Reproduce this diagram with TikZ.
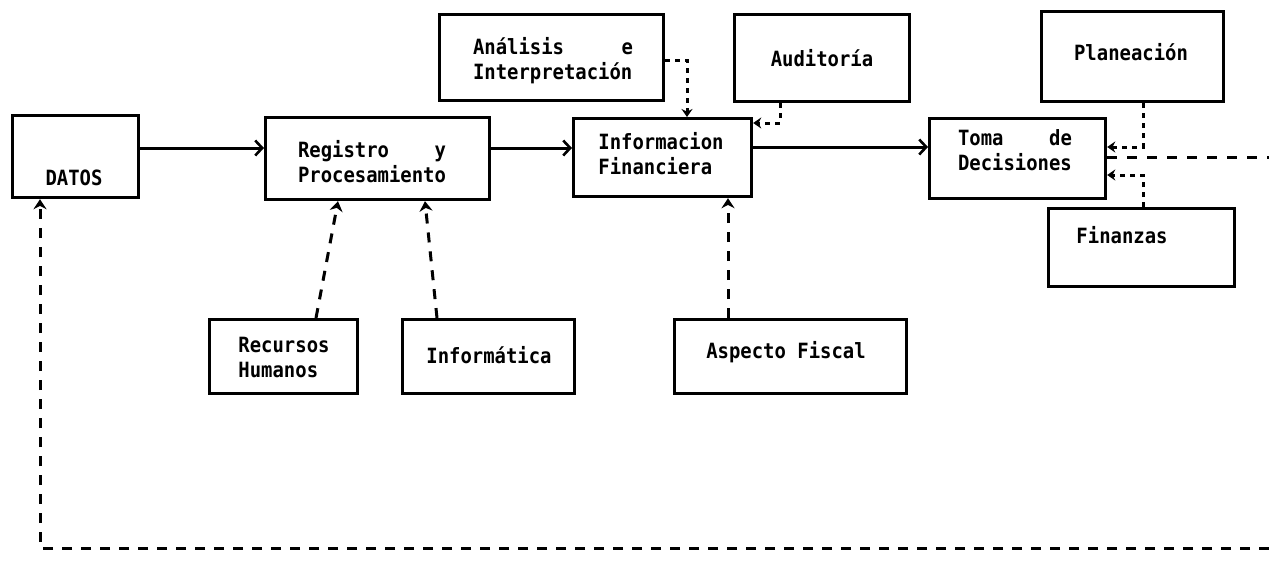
\documentclass[tikz,border=0pt]{standalone}
\usepackage{fontspec}
\newfontfamily\typ[FakeStretch=0.9]{DejaVu Sans Mono}
\usetikzlibrary{arrows.meta}
\begin{document}
\begin{tikzpicture}[x=1pt,y=-1pt,
  box/.style={draw,line width=3.2pt,inner sep=0pt,anchor=north west},
  lbl/.style={font=\typ\bfseries\fontsize{21}{25}\selectfont,align=left,inner sep=0pt},
  solidarrow/.style={line width=3pt,-{Straight Barb[length=7pt,width=15pt,line width=2.6pt]}},
  dasharrow/.style={line width=3pt,dash pattern=on 10pt off 9pt,-{Stealth[length=10pt,width=13pt]}},
  dotarrow/.style={line width=3pt,dash pattern=on 5pt off 5pt,-{Stealth[length=8pt,width=11pt]}},
  dashline/.style={line width=3pt,dash pattern=on 10pt off 10pt},
]
\useasboundingbox (0,0) rectangle (1269,574);
\fill[white] (0,0) rectangle (1269,574);

% boxes
\node[box,minimum width=126pt,minimum height=82pt] (datos) at (11,114) {};
\node[box,minimum width=224pt,minimum height=82pt] (reg) at (264,116) {};
\node[box,minimum width=224pt,minimum height=86pt] (ana) at (438,13) {};
\node[box,minimum width=175pt,minimum height=87pt] (aud) at (733,13) {};
\node[box,minimum width=178pt,minimum height=78pt] (info) at (572,117) {};
\node[box,minimum width=176pt,minimum height=80pt] (toma) at (928,117) {};
\node[box,minimum width=182pt,minimum height=90pt] (plan) at (1040,10) {};
\node[box,minimum width=186pt,minimum height=78pt] (fin) at (1047,207) {};
\node[box,minimum width=148pt,minimum height=74pt] (rec) at (208,318) {};
\node[box,minimum width=172pt,minimum height=74pt] (infm) at (401,318) {};
\node[box,minimum width=232pt,minimum height=74pt] (asp) at (673,318) {};

% texts
\node[lbl] (datosT) at (74,178) {DATOS};
\node[lbl] (regT) at (372,162) {\makebox[148pt][l]{Registro\hfill y}\\Procesamiento};
\node[lbl] (anaT) at (553,61) {\makebox[160pt][l]{Análisis\hfill e}\\Interpretación};
\node[lbl] (audT) at (822,58) {Auditoría};
\node[lbl] (infoT) at (661,154) {Informacion\\Financiera};
\node[lbl] (tomaT) at (1015,150) {\makebox[114pt][l]{Toma\hfill de}\\Decisiones};
\node[lbl] (planT) at (1131,52) {Planeación};
\node[lbl] (finT) at (1122,235) {Finanzas};
\node[lbl] (recT) at (284,357) {Recursos\\Humanos};
\node[lbl] (infmT) at (489,355) {Informática};
\node[lbl] (aspT) at (786,352) {Aspecto Fiscal};

% helper coordinates
\coordinate (yMain) at (0,148);
\coordinate (yMain2) at (0,147);
\coordinate (anaK) at (687,60);
\coordinate (audK) at (780,123);
\coordinate (pk) at (1143,147);
\coordinate (fk) at (1143,175);
\coordinate (fbY) at (0,157);
\coordinate (fbB) at (1269,157);
\coordinate (fbC) at (1269,548);
\coordinate (fbD) at (40,548);
\coordinate (rA) at (316,0);
\coordinate (rB) at (338,0);
\coordinate (iA) at (437,0);
\coordinate (iB) at (425,0);
\coordinate (aA) at (728,0);

% main flow
\draw[solidarrow] (datos.east|-yMain) -- (reg.west|-yMain);
\draw[solidarrow] (reg.east|-yMain) -- (info.west|-yMain);
\draw[solidarrow] (info.east|-yMain2) -- (toma.west|-yMain2);

% supporting inputs
\draw[dotarrow] (ana.east|-anaK) -| (info.north-|anaK);
\draw[dotarrow] (aud.south-|audK) |- (info.east|-audK);
\draw[dotarrow] (plan.south-|pk) |- (toma.east|-pk);
\draw[dotarrow] (fin.north-|fk) |- (toma.east|-fk);
\draw[dasharrow] (rec.north-|rA) -- (reg.south-|rB);
\draw[dasharrow] (infm.north-|iA) -- (reg.south-|iB);
\draw[dasharrow] (asp.north-|aA) -- (info.south-|aA);

% feedback loop
\draw[dashline] (toma.east|-fbY) -- (fbB);
\draw[dasharrow] (fbC) -- (fbD) -- (datos.south-|fbD);
\end{tikzpicture}
\end{document}
